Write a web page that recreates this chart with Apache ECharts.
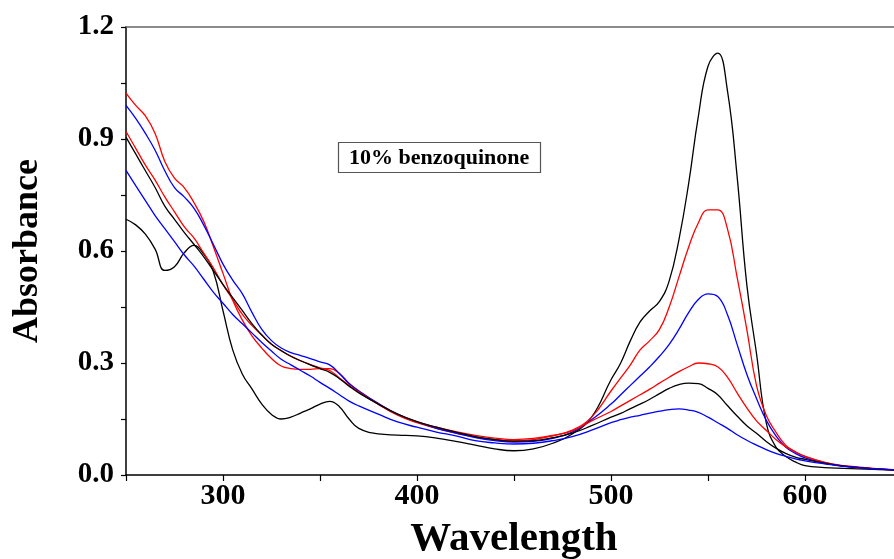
<!DOCTYPE html>
<html>
<head>
<meta charset="utf-8">
<script src="https://cdn.jsdelivr.net/npm/echarts@6/dist/echarts.min.js"></script>
<style>
html,body{margin:0;padding:0;background:#fff;}
#chart{width:894px;height:559px;}
</style>
</head>
<body>
<div id="chart"></div>
<script>
// Shared wavelength grid (nm)
const wavelengths = [250,255,260,265,270,275,280,285,290,295,300,305,310,315,320,325,330,335,340,345,350,355,360,365,370,380,390,400,410,420,430,440,450,460,470,480,490,500,505,510,515,520,525,530,535,540,545,550,555,560,565,570,575,580,585,590,595,600,610,620,635,650];

// Absorbance curves
const curveBlack1 = [0.685,0.67,0.645,0.605,0.548,0.558,0.595,0.615,0.592,0.545,0.44,0.335,0.27,0.23,0.19,0.162,0.15,0.155,0.166,0.177,0.19,0.197,0.183,0.15,0.125,0.11,0.107,0.105,0.099,0.09,0.08,0.07,0.065,0.07,0.085,0.11,0.155,0.255,0.30,0.36,0.41,0.44,0.465,0.52,0.63,0.78,0.96,1.095,1.13,1.03,0.80,0.51,0.325,0.14,0.075,0.05,0.035,0.025,0.02,0.018,0.015,0.012];
const curveRed1 = [1.023,0.99,0.962,0.915,0.84,0.795,0.77,0.73,0.68,0.612,0.54,0.468,0.415,0.372,0.34,0.312,0.292,0.285,0.283,0.283,0.285,0.285,0.272,0.245,0.225,0.19,0.16,0.14,0.125,0.112,0.102,0.095,0.092,0.095,0.105,0.12,0.155,0.225,0.26,0.295,0.335,0.36,0.39,0.45,0.53,0.61,0.675,0.71,0.71,0.66,0.53,0.39,0.24,0.16,0.115,0.08,0.062,0.05,0.034,0.024,0.017,0.013];
const curveBlue1 = [0.99,0.955,0.915,0.87,0.815,0.77,0.745,0.715,0.67,0.618,0.565,0.522,0.485,0.435,0.39,0.36,0.34,0.328,0.32,0.312,0.303,0.295,0.272,0.245,0.225,0.192,0.163,0.142,0.125,0.112,0.1,0.092,0.088,0.09,0.098,0.115,0.148,0.19,0.215,0.24,0.265,0.29,0.318,0.35,0.39,0.435,0.47,0.485,0.478,0.43,0.35,0.27,0.205,0.147,0.105,0.075,0.058,0.046,0.032,0.024,0.017,0.013];
const curveRed2 = [0.92,0.875,0.83,0.79,0.745,0.705,0.665,0.635,0.595,0.555,0.51,0.47,0.43,0.4,0.375,0.35,0.333,0.318,0.306,0.296,0.287,0.28,0.26,0.24,0.222,0.19,0.162,0.142,0.128,0.116,0.106,0.099,0.095,0.098,0.106,0.118,0.145,0.17,0.185,0.2,0.215,0.23,0.246,0.262,0.277,0.29,0.3,0.298,0.29,0.262,0.22,0.18,0.145,0.12,0.095,0.076,0.062,0.05,0.034,0.025,0.018,0.013];
const curveBlack2 = [0.905,0.86,0.815,0.77,0.72,0.685,0.65,0.618,0.585,0.548,0.51,0.475,0.44,0.405,0.375,0.35,0.333,0.318,0.306,0.295,0.285,0.275,0.258,0.238,0.22,0.19,0.163,0.143,0.128,0.115,0.103,0.095,0.09,0.092,0.1,0.112,0.132,0.155,0.165,0.178,0.19,0.203,0.218,0.232,0.242,0.246,0.245,0.232,0.215,0.186,0.158,0.132,0.112,0.09,0.072,0.058,0.048,0.042,0.032,0.024,0.017,0.013];
const curveBlue2 = [0.816,0.775,0.735,0.695,0.66,0.625,0.59,0.56,0.525,0.49,0.46,0.43,0.405,0.38,0.355,0.332,0.31,0.295,0.28,0.265,0.248,0.232,0.215,0.198,0.185,0.163,0.142,0.128,0.115,0.105,0.092,0.086,0.083,0.085,0.092,0.103,0.12,0.14,0.148,0.155,0.16,0.166,0.171,0.175,0.177,0.174,0.168,0.155,0.14,0.125,0.108,0.093,0.08,0.068,0.058,0.05,0.043,0.038,0.03,0.023,0.017,0.013];

const seriesNames = ['s1','s2','s3','s4','s5','s6'];
const seriesColors = ['#000000','#ff0000','#0000ff','#ff0000','#000000','#0000ff'];
const allCurves = [curveBlack1,curveRed1,curveBlue1,curveRed2,curveBlack2,curveBlue2];

const xLabelValues = [300,400,500,600];
const yLabelValues = [0.0,0.3,0.6,0.9,1.2];

const FONT = '"Liberation Serif","Times New Roman",serif';

const chart = echarts.init(document.getElementById('chart'), null, {renderer:'canvas'});

const series = allCurves.map((c,i)=>({
  name: seriesNames[i],
  type: 'line',
  xAxisIndex: 0,
  yAxisIndex: 0,
  data: wavelengths.map((w,j)=>[w,c[j]]),
  showSymbol: false,
  symbol: 'none',
  smooth: 0.45,
  clip: true,
  lineStyle: {color: seriesColors[i], width: 1.3},
  itemStyle: {color: seriesColors[i]},
  z: 3
}));

chart.setOption({
  animation: false,
  backgroundColor: '#ffffff',
  title: {
    text: '10% benzoquinone',
    left: 338,
    top: 142,
    padding: [5, 11, 4, 11],
    borderColor: '#555555',
    borderWidth: 1.2,
    textStyle: {fontFamily: FONT, fontWeight: 'bold', fontSize: 22, color: '#000'}
  },
  grid: {left: 126, top: 27, right: -8, bottom: 84, containLabel: false, outerBoundsMode: 'none'},
  xAxis: [{
    type: 'value',
    min: 250, max: 650, interval: 50,
    name: 'Wavelength',
    nameLocation: 'middle',
    nameGap: 44,
    nameTextStyle: {fontFamily: FONT, fontWeight: 'bold', fontSize: 41, color: '#000'},
    axisLine: {show: true, onZero: false, lineStyle: {color: '#000', width: 1.5}},
    axisTick: {show: true, inside: false, length: 6, lineStyle: {color: '#000', width: 1.2}},
    axisLabel: {
      margin: 6,
      fontFamily: FONT, fontWeight: 'bold', fontSize: 30, color: '#000',
      formatter: v => xLabelValues.includes(v) ? String(v) : ''
    },
    splitLine: {show: false}
  },{
    type: 'value',
    position: 'top',
    min: 250, max: 650,
    axisLine: {show: true, onZero: false, lineStyle: {color: '#666', width: 1.5}},
    axisTick: {show: false},
    axisLabel: {show: false},
    splitLine: {show: false}
  }],
  yAxis: {
    type: 'value',
    min: 0, max: 1.2, interval: 0.15,
    name: 'Absorbance',
    nameLocation: 'middle',
    nameRotate: 90,
    nameGap: 80,
    nameTextStyle: {fontFamily: FONT, fontWeight: 'bold', fontSize: 36, color: '#000'},
    axisLine: {show: true, onZero: false, lineStyle: {color: '#000', width: 1.5}},
    axisTick: {show: true, inside: false, length: 5, lineStyle: {color: '#000', width: 1.2}},
    axisLabel: {
      margin: 12,
      fontFamily: FONT, fontWeight: 'bold', fontSize: 29, color: '#000',
      formatter: v => yLabelValues.some(t => Math.abs(t - v) < 1e-6) ? v.toFixed(1) : ''
    },
    splitLine: {show: false}
  },
  series: series
});
</script>
</body>
</html>
